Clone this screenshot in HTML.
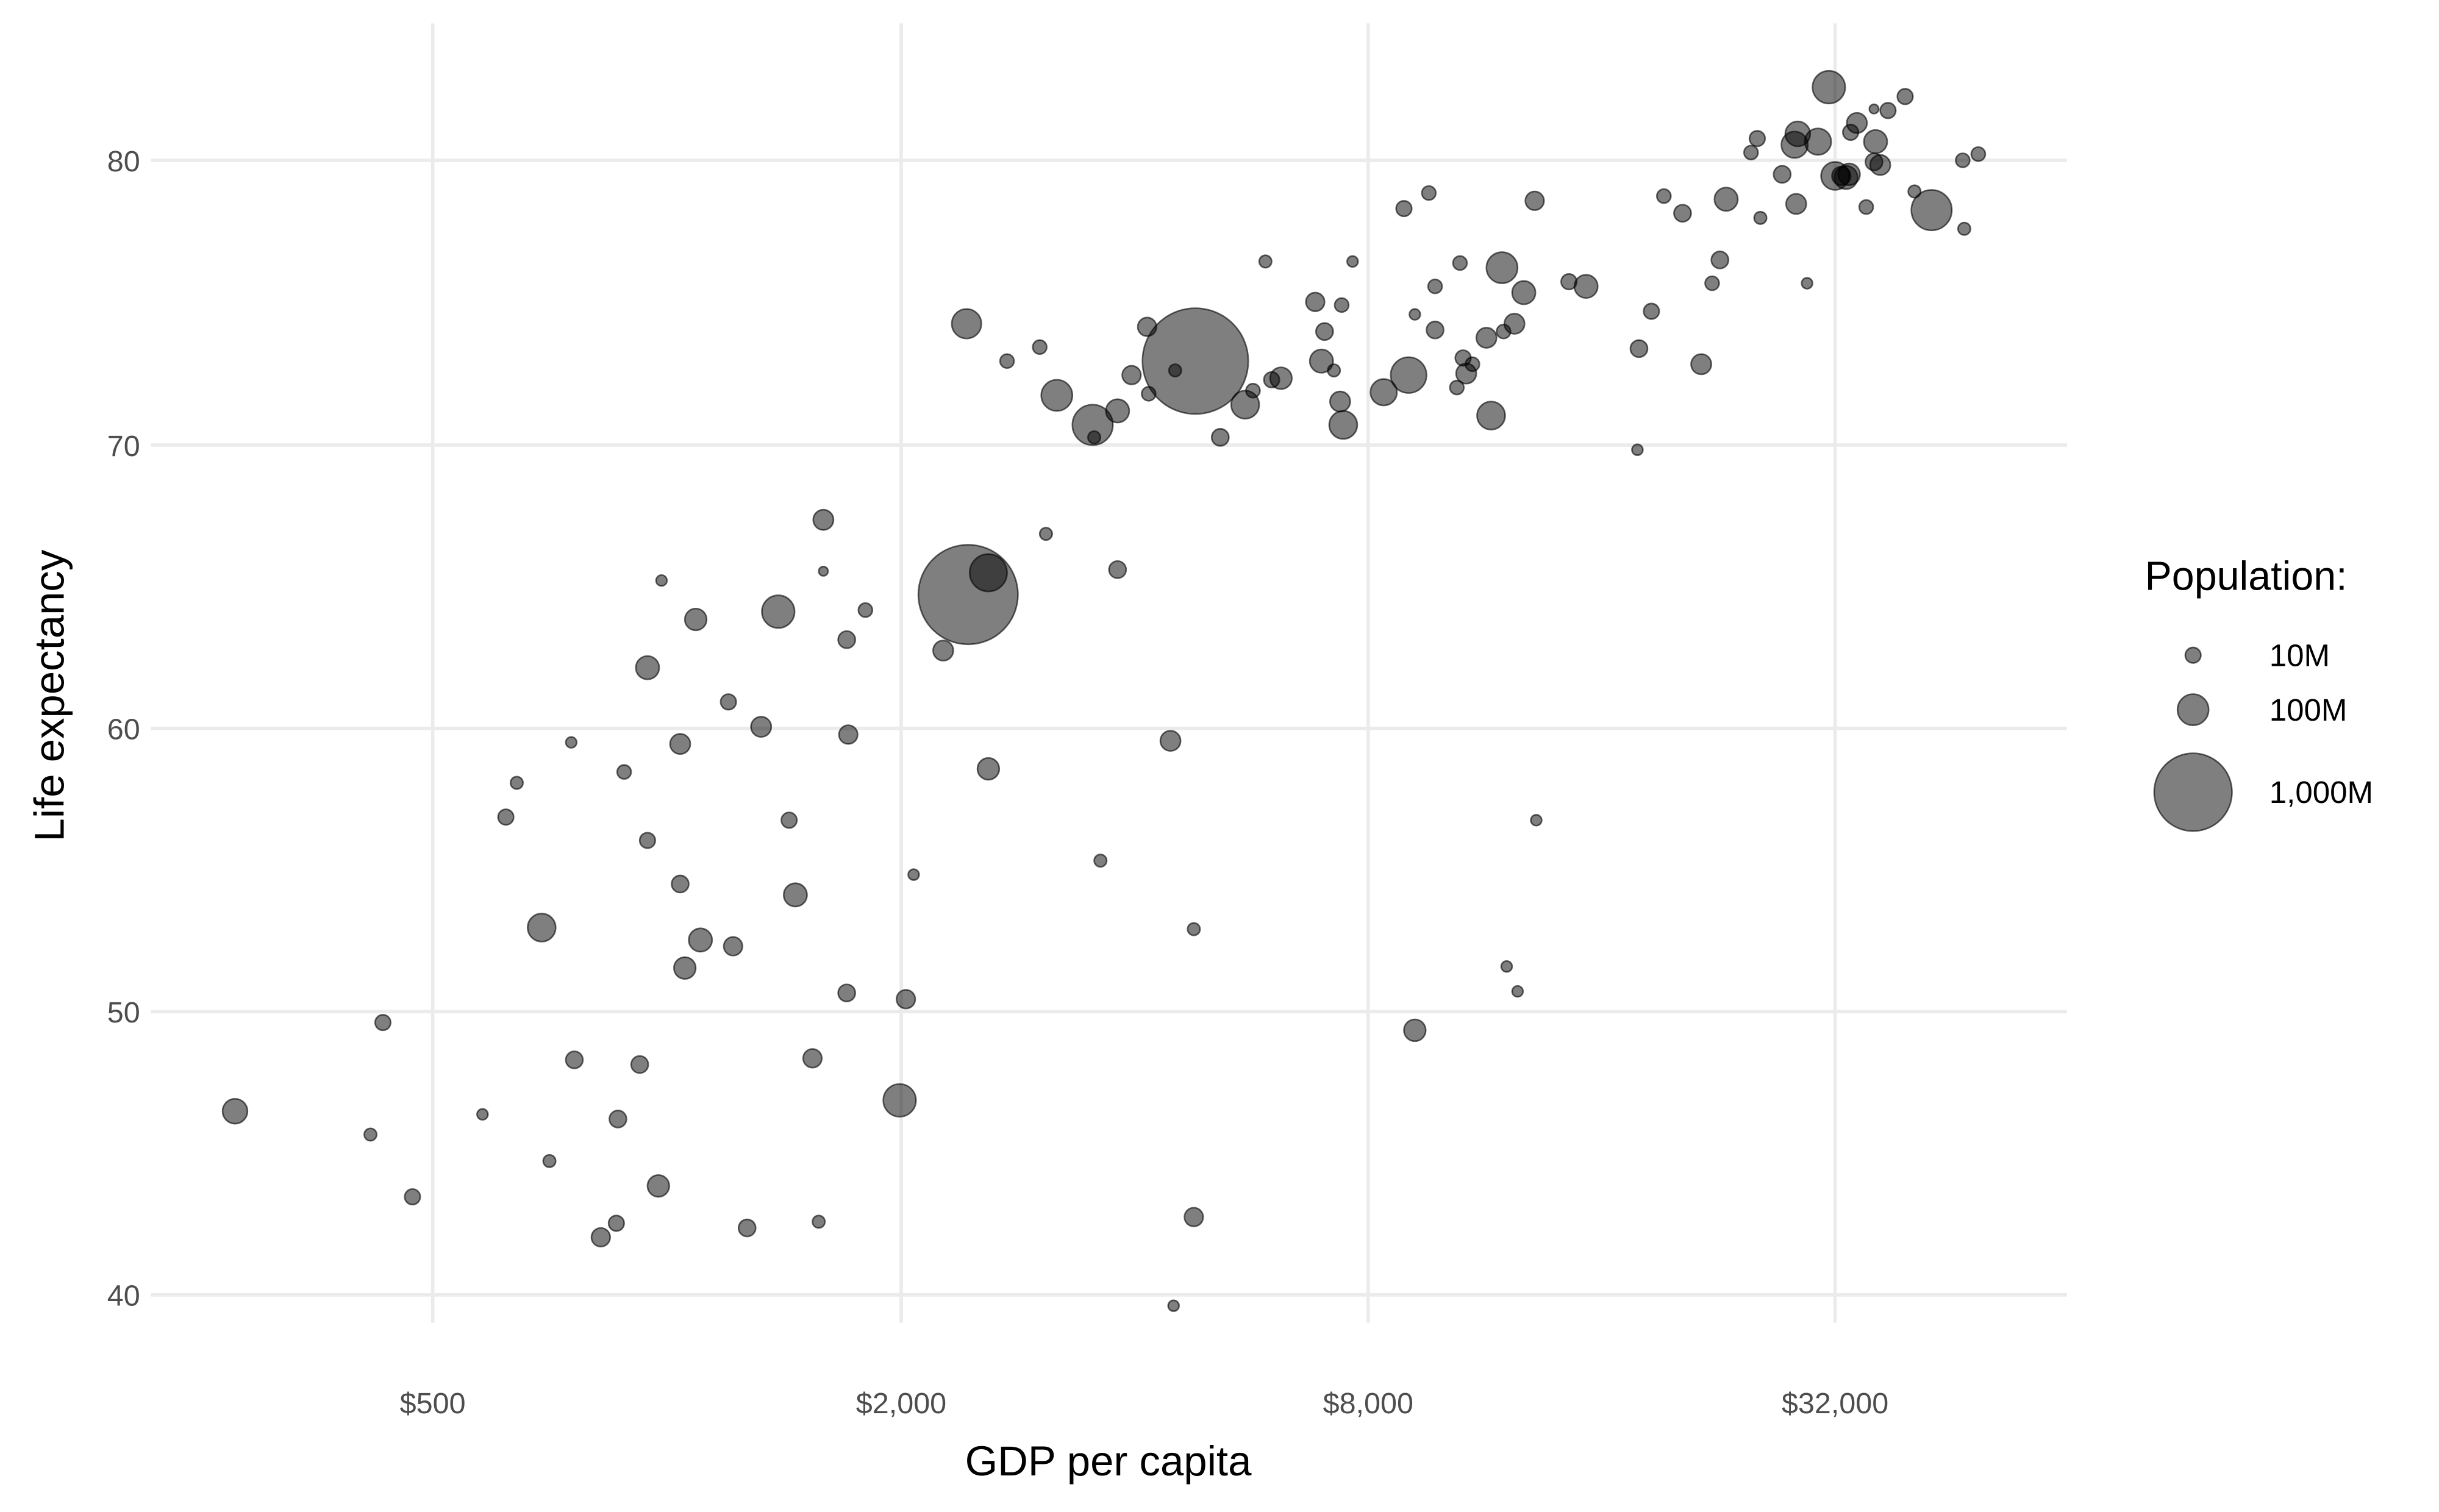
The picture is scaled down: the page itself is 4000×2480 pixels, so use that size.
<!DOCTYPE html>
<html><head><meta charset="utf-8"><style>
html,body{margin:0;padding:0;background:#fff;}
svg{display:block;}
text{font-family:"Liberation Sans Narrow","Liberation Sans",sans-serif;}
</style></head><body>
<svg width="4000" height="2480" viewBox="0 0 1567 971.5" xmlns="http://www.w3.org/2000/svg">
<rect width="1567" height="971.5" fill="#fff"/>
<g stroke="#ebebeb" stroke-width="2.2">
<line x1="97" x2="1328" y1="103" y2="103"/><line x1="97" x2="1328" y1="286" y2="286"/>
<line x1="97" x2="1328" y1="468" y2="468"/><line x1="97" x2="1328" y1="650" y2="650"/>
<line x1="97" x2="1328" y1="832" y2="832"/>
<line x1="278" x2="278" y1="15" y2="850"/><line x1="579" x2="579" y1="15" y2="850"/>
<line x1="879" x2="879" y1="15" y2="850"/><line x1="1179" x2="1179" y1="15" y2="850"/>
</g>
<g fill="#4d4d4d" font-size="19" text-anchor="end">
<text x="90" y="110">80</text><text x="90" y="293">70</text><text x="90" y="475">60</text><text x="90" y="657">50</text><text x="90" y="839">40</text>
</g>
<g fill="#4d4d4d" font-size="19" text-anchor="middle">
<text x="278" y="908">$500</text><text x="579" y="908">$2,000</text><text x="879" y="908">$8,000</text><text x="1179" y="908">$32,000</text>
</g>
<text x="712" y="948" font-size="27" text-anchor="middle" fill="#000">GDP per capita</text>
<text transform="translate(41,447) rotate(-90)" font-size="27" text-anchor="middle" fill="#000">Life expectancy</text>
<g id="pts" fill="rgba(0,0,0,0.5)" stroke="rgba(0,0,0,0.6)" stroke-width="1"></g>
<text x="1378" y="379" font-size="26" fill="#000">Population:</text>
<g fill="rgba(0,0,0,0.5)" stroke="rgba(0,0,0,0.6)" stroke-width="1">
<circle cx="1409" cy="421" r="5"/><circle cx="1409" cy="456" r="10"/><circle cx="1409" cy="509" r="25"/>
</g>
<g font-size="20" fill="#000"><text x="1458" y="428">10M</text><text x="1458" y="463">100M</text><text x="1458" y="516">1,000M</text></g>
<script>
var d=[[151,714,8],[238,729,4],[246,657,5],[265,769,5],[310,716,3.5],[325,525,5],[332,503,4],[348,596,9],[353,746,4],[367,477,3.5],[369,681,5.5],[386,795,6],[396,786,5],[397,719,5.5],[401,496,4.5],[411,684,5.5],[416,429,7.5],[416,540,5],[423,762,7],[425,373,3.5],[437,568,5.5],[437,478,6.5],[440,622,7],[447,398,7],[450,604,7.5],[468,451,5],[471,608,6],[480,789,5.5],[489,467,6.5],[500,393,10.5],[507,527,5],[511,575,7.5],[522,680,6],[526,785,4],[529,334,6.5],[529,367,3],[544,411,5.5],[544,638,5.5],[545,472,6],[556,392,4.5],[578,707,10.5],[582,642,6],[587,562,3.5],[606,418,6.5],[621,208,9.5],[622,382,32],[635,368,12],[635,494,7],[647,232,4.5],[668,223,4.5],[672,343,4],[679,254,10],[702,273,13],[703,281,4],[707,553,4],[718,264,7.5],[718,366,5.5],[727,241,6],[737,210,6],[738,253,4.5],[752,476,6.5],[755,238,4],[767,782,6],[767,597,4],[754,839,3.5],[768,232,34],[784,281,5.5],[800,260,9],[805,251,4.5],[813,168,4],[817,244,5],[823,243,7],[845,194,6],[849,232,7.5],[851,213,5.5],[857,238,4],[861,258,6.5],[862,196,4.5],[863,273,9],[869,168,3.5],[889,252,8.5],[902,134,5],[905,241,11.5],[909,202,3.5],[909,662,7],[918,124,4.5],[922,184,4.5],[922,212,5.5],[936,249,4.5],[938,169,4.5],[940,230,5],[942,240,6.5],[946,234,4.5],[955,217,6.5],[958,267,9],[965,172,10],[966,213,4.5],[968,621,3.5],[973,208,6.5],[975,637,3.5],[979,188,7.5],[986,129,6],[987,527,3.5],[1008,181,5],[1019,184,7.5],[1052,289,3.5],[1053,224,5.5],[1061,200,5],[1069,126,4.5],[1081,137,5.5],[1093,234,6.5],[1100,182,4.5],[1105,167,5.5],[1109,128,7.5],[1125,98,4.5],[1129,89,5],[1131,140,4],[1145,112,5.5],[1153,93,8.5],[1154,131,6.5],[1155,86,8],[1161,182,3.5],[1168,91,8.5],[1175,56,10.5],[1179,113,9],[1183,113,6],[1186,114,7.5],[1188,112,7],[1189,85,5],[1193,79,6.5],[1199,133,4.5],[1204,104,5.5],[1205,91,7.5],[1204,70,3],[1208,106,6.5],[1213,71,5],[1224,62,5],[1230,123,4],[1241,135,13],[1261,103,4.5],[1262,147,4],[1271,99,4.5]];
var g=document.getElementById('pts'),ns='http://www.w3.org/2000/svg';
d.sort(function(a,b){return b[2]-a[2];}).forEach(function(p){var c=document.createElementNS(ns,'circle');c.setAttribute('cx',p[0]);c.setAttribute('cy',p[1]);c.setAttribute('r',p[2]);g.appendChild(c);});
</script>
</svg>
</body></html>
